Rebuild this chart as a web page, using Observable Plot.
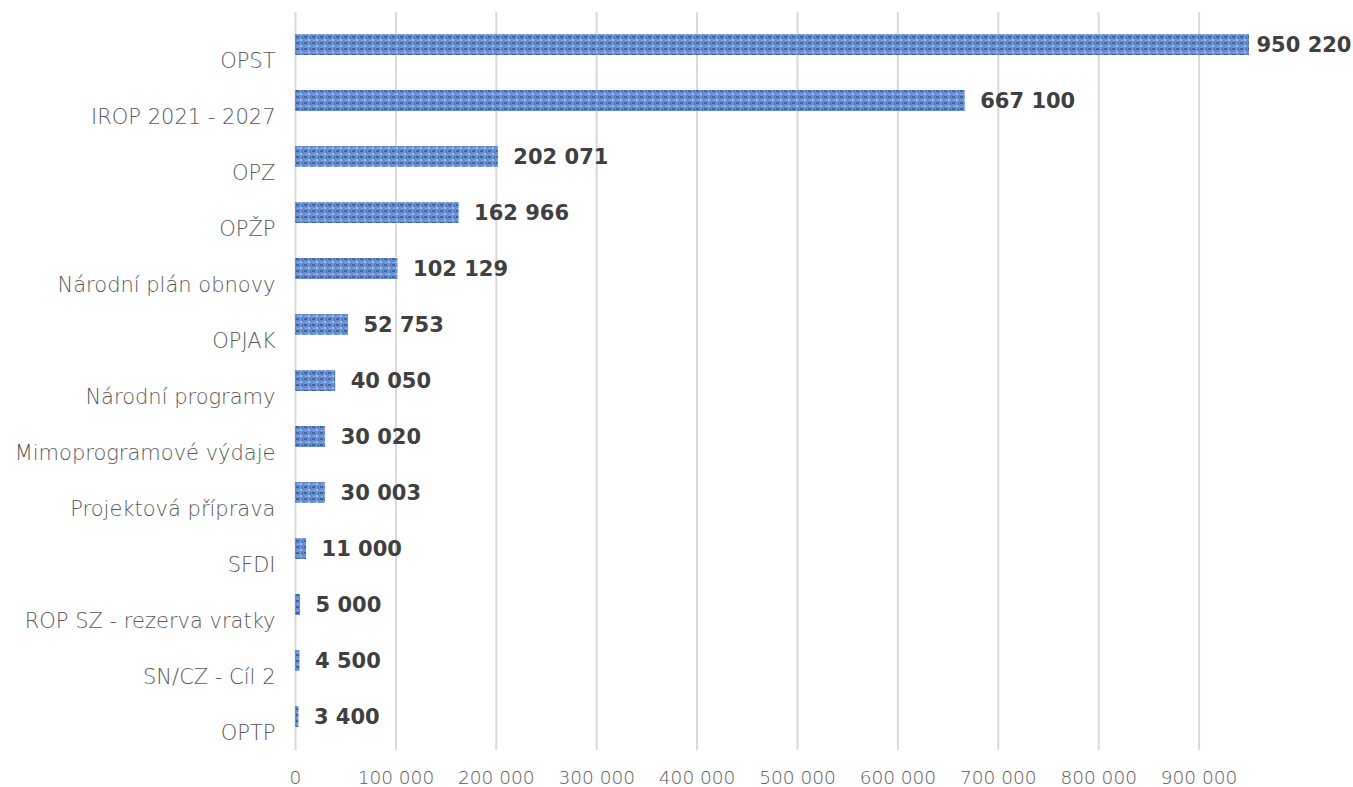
<!DOCTYPE html>
<html><head><meta charset="utf-8">
<script src="https://cdn.jsdelivr.net/npm/d3@7"></script>
<script src="https://cdn.jsdelivr.net/npm/@observablehq/plot@0.6"></script>
<style>
body{margin:0;background:#fff;}
#chart svg{display:block;overflow:visible;}
</style></head>
<body><div id="chart"></div>
<script>
const categories = ["OPST","IROP 2021 - 2027","OPZ","OPŽP","Národní plán obnovy","OPJAK","Národní programy","Mimoprogramové výdaje","Projektová příprava","SFDI","ROP SZ - rezerva vratky","SN/CZ - Cíl 2","OPTP"];
const values = [950220,667100,202071,162966,102129,52753,40050,30020,30003,11000,5000,4500,3400];
const xTicks = [0,100000,200000,300000,400000,500000,600000,700000,800000,900000];

const data = categories.map((c,i)=>({cat:c, value:values[i]}));
const maxV = d3.max(values);
const fmt = v => d3.format(",")(v).replace(/,/g," ");
const font = "'DejaVu Sans', sans-serif";

const chart = Plot.plot({
  width: 1353,
  height: 787,
  marginLeft: 295,
  marginRight: 104,
  marginTop: 12,
  marginBottom: 37,
  style: {fontFamily: font, background: "#fff"},
  x: {domain: [0, 950220], ticks: xTicks, tickFormat: fmt},
  y: {domain: categories, paddingInner: 0.62, paddingOuter: 0.31, label: null},
  marks: [
    Plot.ruleX(xTicks, {stroke: "#d9d9d9", strokeWidth: 2}),
    Plot.barX(data, {x: "value", y: "cat", fill: "url(#barpat)"}),
    Plot.text(data.filter(d => d.value !== maxV), {x: "value", y: "cat", text: d => fmt(d.value), textAnchor: "start", dx: 15, fontSize: 21, fontWeight: "bold", fill: "#404040"}),
    Plot.text(data.filter(d => d.value === maxV), {x: "value", y: "cat", text: d => fmt(d.value), textAnchor: "start", dx: 7, fontSize: 21, fontWeight: "bold", fill: "#404040"}),
    Plot.axisX(xTicks, {tickSize: 0, tickPadding: 20, tickFormat: fmt, fontSize: 18.5, fontWeight: 200, fill: "#595959", label: null}),
    Plot.axisY({tickSize: 0, tickPadding: 20, fontSize: 21, fontWeight: 200, fill: "#595959", dy: 16, label: null})
  ]
});

const svg = d3.select(chart);
const defs = svg.insert("defs", ":first-child");
const pat = defs.append("pattern").attr("id","barpat").attr("patternUnits","userSpaceOnUse").attr("width",8).attr("height",6);
pat.append("rect").attr("width",8).attr("height",6).attr("fill","#6a8fcf");
pat.append("rect").attr("x",0).attr("y",0).attr("width",3).attr("height",2).attr("fill","#3d64a8");
pat.append("rect").attr("x",4).attr("y",3).attr("width",2).attr("height",2).attr("fill","#a3c0f0");
pat.append("rect").attr("x",6).attr("y",0).attr("width",1).attr("height",3).attr("fill","#4a70b5");
pat.append("rect").attr("x",1).attr("y",4).attr("width",2).attr("height",1).attr("fill","#8eaee6");
document.getElementById("chart").appendChild(chart);
</script>
</body></html>
